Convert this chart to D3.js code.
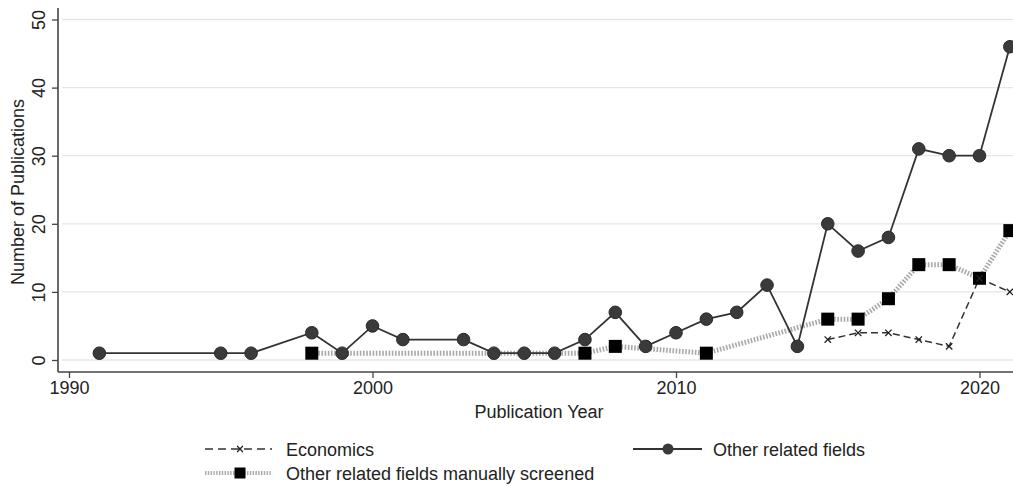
<!DOCTYPE html>
<html>
<head>
<meta charset="utf-8">
<script src="https://cdn.jsdelivr.net/npm/d3@7"></script>
<style>
  body { margin: 0; background: #fff; }
  svg { font-family: "Liberation Sans", Arial, sans-serif; }
</style>
</head>
<body>
<svg id="canvas" width="1013" height="486"></svg>
<script>
// data
var otherYears = [1991, 1995, 1996, 1998, 1999, 2000, 2001, 2003, 2004, 2005, 2006, 2007, 2008, 2009, 2010, 2011, 2012, 2013, 2014, 2015, 2016, 2017, 2018, 2019, 2020, 2021];
var otherValues = [1, 1, 1, 4, 1, 5, 3, 3, 1, 1, 1, 3, 7, 2, 4, 6, 7, 11, 2, 20, 16, 18, 31, 30, 30, 46];

var screenedYears = [1998, 2007, 2008, 2011, 2015, 2016, 2017, 2018, 2019, 2020, 2021];
var screenedValues = [1, 1, 2, 1, 6, 6, 9, 14, 14, 12, 19];

var econYears = [2015, 2016, 2017, 2018, 2019, 2020, 2021];
var econValues = [3, 4, 4, 3, 2, 12, 10];

var xTicks = [1990, 2000, 2010, 2020];
var yTicks = [0, 10, 20, 30, 40, 50];

function zip(xs, ys) {
    return xs.map(function(x, i) { return {x: x, y: ys[i]}; });
}

var svg = d3.select('#canvas');

var x = d3.scaleLinear().domain([1990, 2020]).range([69, 979.5]);
var y = d3.scaleLinear().domain([0, 50]).range([360, 19.5]);

// gridlines
svg.append('g')
    .selectAll('line')
    .data(yTicks)
    .enter()
    .append('line')
    .attr('x1', 62)
    .attr('x2', 1013)
    .attr('y1', function(d) { return y(d); })
    .attr('y2', function(d) { return y(d); })
    .style('stroke', '#e6e6e6')
    .style('stroke-width', 1.3);

// x axis
var xAxis = svg.append('g')
    .attr('transform', 'translate(0,372)')
    .call(d3.axisBottom(x).tickValues(xTicks).tickFormat(d3.format('d')).tickSize(6).tickSizeOuter(0));
xAxis.select('.domain').attr('d', 'M58,0H1013').style('stroke', '#444').style('stroke-width', 1.6);
xAxis.selectAll('.tick line').style('stroke', '#444').style('stroke-width', 1.3);
xAxis.selectAll('.tick text')
    .attr('y', 9)
    .style('font-size', '18px')
    .style('fill', '#222');

// y axis
var yAxis = svg.append('g')
    .attr('transform', 'translate(58,0)')
    .call(d3.axisLeft(y).tickValues(yTicks).tickSize(6).tickSizeOuter(0));
yAxis.select('.domain').attr('d', 'M0,8V372').style('stroke', '#444').style('stroke-width', 1.6);
yAxis.selectAll('.tick line').style('stroke', '#444').style('stroke-width', 1.3);
yAxis.selectAll('.tick text')
    .attr('x', 0)
    .attr('dy', 0)
    .attr('transform', 'translate(-13,0) rotate(-90)')
    .attr('text-anchor', 'middle')
    .style('font-size', '18px')
    .style('fill', '#222');

// axis titles
svg.append('text')
    .attr('x', 539)
    .attr('y', 418)
    .attr('text-anchor', 'middle')
    .style('font-size', '18px')
    .style('fill', '#222')
    .text('Publication Year');

svg.append('text')
    .attr('transform', 'translate(24,192) rotate(-90)')
    .attr('text-anchor', 'middle')
    .style('font-size', '18px')
    .style('fill', '#222')
    .text('Number of Publications');

var line = d3.line()
    .x(function(d) { return x(d.x); })
    .y(function(d) { return y(d.y); });

var plot = svg.append('g');

// manually screened: thick gray dotted line with black squares
plot.append('path')
    .datum(zip(screenedYears, screenedValues))
    .attr('d', line)
    .style('fill', 'none')
    .style('stroke', '#a8a8a8')
    .style('stroke-width', 5)
    .style('stroke-dasharray', '1.6,1.6');

// other related fields: solid line with circles
plot.append('path')
    .datum(zip(otherYears, otherValues))
    .attr('d', line)
    .style('fill', 'none')
    .style('stroke', '#333')
    .style('stroke-width', 1.8);

// economics: dashed line with x markers
plot.append('path')
    .datum(zip(econYears, econValues))
    .attr('d', line)
    .style('fill', 'none')
    .style('stroke', '#333')
    .style('stroke-width', 1.5)
    .style('stroke-dasharray', '7,4');

plot.selectAll('circle')
    .data(zip(otherYears, otherValues))
    .enter()
    .append('circle')
    .attr('cx', function(d) { return x(d.x); })
    .attr('cy', function(d) { return y(d.y); })
    .attr('r', 6.3)
    .style('fill', '#3a3a3a')
    .style('stroke', '#2a2a2a')
    .style('stroke-width', 1);

plot.selectAll('rect')
    .data(zip(screenedYears, screenedValues))
    .enter()
    .append('rect')
    .attr('x', function(d) { return x(d.x) - 6.5; })
    .attr('y', function(d) { return y(d.y) - 6.5; })
    .attr('width', 13)
    .attr('height', 13)
    .style('fill', '#000');

plot.selectAll('path.cross')
    .data(zip(econYears, econValues))
    .enter()
    .append('path')
    .attr('class', 'cross')
    .attr('d', d3.symbol().type(d3.symbolX).size(28))
    .attr('transform', function(d) { return 'translate(' + x(d.x) + ',' + y(d.y) + ')'; })
    .style('stroke', '#222')
    .style('stroke-width', 1.3)
    .style('fill', 'none');

// legend
var legend = svg.append('g');

function legendItem(lx, ly, label, kind) {
    var g = legend.append('g').attr('transform', 'translate(' + lx + ',' + ly + ')');
    if (kind === 'econ') {
        g.append('line').attr('x1', 0).attr('x2', 67).attr('y1', 0).attr('y2', 0)
            .style('stroke', '#333').style('stroke-width', 1.5).style('stroke-dasharray', '8,5');
        g.append('path').attr('d', d3.symbol().type(d3.symbolX).size(24)).attr('transform', 'translate(35,0)')
            .style('stroke', '#222').style('stroke-width', 1.3);
    } else if (kind === 'other') {
        g.append('line').attr('x1', 0).attr('x2', 69).attr('y1', 0).attr('y2', 0)
            .style('stroke', '#333').style('stroke-width', 1.8);
        g.append('circle').attr('cx', 35).attr('cy', 0).attr('r', 5.5).style('fill', '#3a3a3a');
    } else {
        g.append('line').attr('x1', 0).attr('x2', 67).attr('y1', 0).attr('y2', 0)
            .style('stroke', '#a8a8a8').style('stroke-width', 4).style('stroke-dasharray', '1.4,1.4');
        g.append('rect').attr('x', 29.5).attr('y', -5.5).attr('width', 11).attr('height', 11).style('fill', '#000');
    }
    g.append('text')
        .attr('x', kind === 'other' ? 80 : 81)
        .attr('y', 6.5)
        .style('font-size', '18px')
        .style('fill', '#222')
        .text(label);
}

legendItem(205, 449, 'Economics', 'econ');
legendItem(633, 449, 'Other related fields', 'other');
legendItem(205, 473, 'Other related fields manually screened', 'screened');
</script>
</body>
</html>
